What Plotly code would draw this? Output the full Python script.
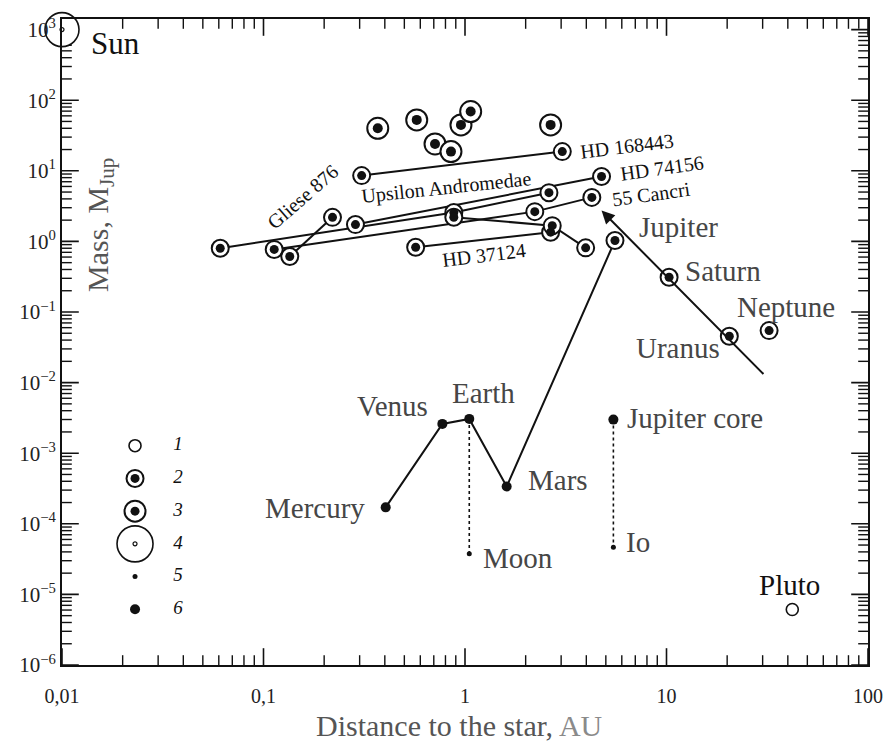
import numpy as np
import plotly.graph_objects as go

# ---------------- data: distance (AU) and mass (M_Jup) ----------------
sun_a = [0.01]
sun_m = [1000.0]

# extrasolar planetary systems (connected by lines)
ups_and_a = [0.061, 0.88, 2.61]
ups_and_m = [0.80, 2.56, 4.9]
cnc55_a = [0.113, 2.22, 4.26]
cnc55_m = [0.77, 2.64, 4.2]
hd74156_a = [0.286, 4.76]
hd74156_m = [1.73, 8.3]
gl876_a = [0.135, 0.22]
gl876_m = [0.61, 2.19]
hd168443_a = [0.307, 3.04]
hd168443_m = [8.55, 18.7]
hd37124_a = [0.569, 2.66]
hd37124_m = [0.825, 1.35]
hd12661_a = [0.88, 2.71, 3.97]
hd12661_m = [2.2, 1.67, 0.81]

# single massive companions
single_a = [0.369, 0.576, 0.71, 0.852, 0.955, 1.067, 2.66]
single_m = [40.0, 52.6, 24.0, 18.7, 44.7, 69.0, 44.7]

# Solar system
giant_names = ["Jupiter", "Saturn", "Uranus", "Neptune"]
giant_a = [5.55, 10.3, 20.5, 32.3]
giant_m = [1.03, 0.31, 0.0453, 0.0545]

inner_names = ["Mercury", "Venus", "Earth", "Mars"]
inner_a = [0.404, 0.772, 1.05, 1.61]
inner_m = [1.71e-4, 2.6e-3, 3.06e-3, 3.37e-4]

moon_a = [1.05]
moon_m = [3.75e-5]
jcore_a = [5.45]
jcore_m = [2.99e-3]
io_a = [5.45]
io_m = [4.65e-5]
pluto_a = [42.1]
pluto_m = [6.1e-6]

# trend arrow (tail -> head)
trend_a = [30.8, 4.76]
trend_m = [0.0126, 2.73]

x_tick_vals = [0.01, 0.1, 1, 10, 100]
x_tick_text = ["0,01", "0,1", "1", "10", "100"]
y_tick_exps = [-6, -5, -4, -3, -2, -1, 0, 1, 2, 3]
legend_keys = ["1", "2", "3", "4", "5", "6"]

# ---------------- styling ----------------
FONT = "Liberation Serif"
GRAY = "#464646"
BLACK = "#111111"
X_RANGE = [-2, 2]
Y_RANGE = [-6, 3.15]

fig = go.Figure()

def line(a, m, dash="solid", width=2):
    fig.add_trace(go.Scatter(x=a, y=m, mode="lines",
                             line=dict(color=BLACK, width=width, dash=dash),
                             hoverinfo="skip", showlegend=False))

def rings(a, m, size, lw=2):
    fig.add_trace(go.Scatter(x=a, y=m, mode="markers", cliponaxis=False,
                             marker=dict(symbol="circle", size=size, color="white",
                                         line=dict(color=BLACK, width=lw)),
                             hoverinfo="skip", showlegend=False))

def dots(a, m, size):
    fig.add_trace(go.Scatter(x=a, y=m, mode="markers", cliponaxis=False,
                             marker=dict(symbol="circle", size=size, color=BLACK,
                                         line=dict(width=0)),
                             hoverinfo="skip", showlegend=False))

# ---------------- tick marks (half-clipped line markers on the frame) ----------------
x_minor = [k * d for d in x_tick_vals[:-1] for k in range(2, 10)]
y_major = [10.0 ** e for e in y_tick_exps]
y_text = ["10<sup>%s</sup>" % (str(e).replace("-", "\u2212")) for e in y_tick_exps]
y_minor = [k * d for d in y_major[:-1] for k in range(2, 10)]
x_lo, x_hi = 10.0 ** X_RANGE[0], 10.0 ** X_RANGE[1]
y_lo, y_hi = 10.0 ** Y_RANGE[0], 10.0 ** Y_RANGE[1]

def ticks(xs, ys, symbol, length, w):
    fig.add_trace(go.Scatter(x=xs, y=ys, mode="markers", cliponaxis=True,
                             marker=dict(symbol=symbol, size=2 * length, color=BLACK,
                                         line=dict(color=BLACK, width=w)),
                             hoverinfo="skip", showlegend=False))
MAJ, MIN = 12, 7
for yy in (y_lo, y_hi):
    ticks(x_tick_vals, [yy] * len(x_tick_vals), "line-ns-open", MAJ, 1.6)
    ticks(x_minor, [yy] * len(x_minor), "line-ns-open", MIN, 1.4)
for xx in (x_lo, x_hi):
    ticks([xx] * len(y_major), y_major, "line-ew-open", MAJ, 1.6)
    ticks([xx] * len(y_minor), y_minor, "line-ew-open", MIN, 1.4)

# ---------------- data lines ----------------
systems = [(ups_and_a, ups_and_m), (cnc55_a, cnc55_m), (hd74156_a, hd74156_m),
           (gl876_a, gl876_m), (hd168443_a, hd168443_m), (hd37124_a, hd37124_m),
           (hd12661_a, hd12661_m)]
for a, m in systems:
    line(a, m)
line(inner_a + giant_a[:1], inner_m + giant_m[:1])
line([inner_a[2], moon_a[0]], [inner_m[2], moon_m[0]], dash="dot", width=1.6)
line([jcore_a[0], io_a[0]], [jcore_m[0], io_m[0]], dash="dot", width=1.6)

# trend arrow
fig.add_annotation(x=np.log10(trend_a[1]), y=np.log10(trend_m[1]),
                   ax=np.log10(trend_a[0]), ay=np.log10(trend_m[0]),
                   xref="x", yref="y", axref="x", ayref="y", text="",
                   showarrow=True, arrowhead=2, arrowsize=1.3, arrowwidth=2,
                   arrowcolor=BLACK, standoff=0)

# ring markers with filled centres
sys_a = sum([s[0] for s in systems], [])
sys_m = sum([s[1] for s in systems], [])
rings(sys_a, sys_m, 17)
dots(sys_a, sys_m, 9)
rings(single_a, single_m, 21)
dots(single_a, single_m, 10)
rings(giant_a, giant_m, 17)
dots(giant_a, giant_m, 9)

# Sun
rings(sun_a, sun_m, 34, lw=1.6)
rings(sun_a, sun_m, 4, lw=1.2)

# terrestrial planets etc.
dots(inner_a + jcore_a, inner_m + jcore_m, 10)
dots(moon_a + io_a, moon_m + io_m, 5)
rings(pluto_a, pluto_m, 12, lw=1.6)

# ---------------- legend key (own small axes) ----------------
key_y = [int(k) for k in legend_keys]
def kring(y, size, lw):
    fig.add_trace(go.Scatter(x=[0], y=[y], xaxis="x2", yaxis="y2", mode="markers",
                             cliponaxis=False,
                             marker=dict(size=size, color="white", line=dict(color=BLACK, width=lw)),
                             hoverinfo="skip", showlegend=False))
def kdot(y, size):
    fig.add_trace(go.Scatter(x=[0], y=[y], xaxis="x2", yaxis="y2", mode="markers",
                             cliponaxis=False,
                             marker=dict(size=size, color=BLACK, line=dict(width=0)),
                             hoverinfo="skip", showlegend=False))
kring(key_y[0], 12, 1.6)
kring(key_y[1], 17, 2); kdot(key_y[1], 9)
kring(key_y[2], 21, 2); kdot(key_y[2], 9)
kring(key_y[3], 36, 1.6); kring(key_y[3], 4, 1.2)
kdot(key_y[4], 5)
kdot(key_y[5], 10)
fig.add_trace(go.Scatter(x=[1] * len(legend_keys), y=key_y, xaxis="x2", yaxis="y2",
                         mode="text", text=legend_keys, cliponaxis=False,
                         textfont=dict(family=FONT, size=19, color=BLACK, style="italic"),
                         hoverinfo="skip", showlegend=False))

# ---------------- labels ----------------
def lab(text, a, m, dx, dy, size=29, color=GRAY, angle=0, xanchor="center"):
    fig.add_annotation(x=np.log10(a), y=np.log10(m), xref="x", yref="y", text=text,
                       showarrow=False, xanchor=xanchor, yanchor="middle",
                       xshift=dx, yshift=dy, textangle=angle,
                       font=dict(family=FONT, size=size, color=color))

lab("Sun", sun_a[0], sun_m[0], 27, -14, size=31, color=BLACK, xanchor="left")
lab("Jupiter", giant_a[0], giant_m[0], 22, 13, xanchor="left")
lab("Saturn", giant_a[1], giant_m[1], 14, 6, xanchor="left")
lab("Uranus", giant_a[2], giant_m[2], -7, -12, xanchor="right")
lab("Neptune", giant_a[3], giant_m[3], 17, 24)
lab("Mercury", inner_a[0], inner_m[0], -19, -1, xanchor="right")
lab("Venus", inner_a[1], inner_m[1], -12, 18, xanchor="right")
lab("Earth", inner_a[2], inner_m[2], 14, 26)
lab("Mars", inner_a[3], inner_m[3], 19, 7, xanchor="left")
lab("Moon", moon_a[0], moon_m[0], 12, -4, xanchor="left")
lab("Jupiter core", jcore_a[0], jcore_m[0], 12, 2, xanchor="left")
lab("Io", io_a[0], io_m[0], 11, 5, xanchor="left")
lab("Pluto", pluto_a[0], pluto_m[0], -3, 25, color=BLACK)

lab("HD 168443", hd168443_a[1], hd168443_m[1], 65, 6, size=20, color=BLACK, angle=-7)
lab("HD 74156", hd74156_a[1], hd74156_m[1], 60, 9, size=20, color=BLACK, angle=-8)
lab("55 Cancri", cnc55_a[2], cnc55_m[2], 60, 3, size=20, color=BLACK, angle=-8)
lab("Upsilon Andromedae", ups_and_a[1], ups_and_m[1], -7, 25, size=20, color=BLACK, angle=-6)
lab("Gliese 876", gl876_a[1], gl876_m[1], -30, 20, size=20, color=BLACK, angle=-41)
lab("HD 37124", hd37124_a[0], hd37124_m[0], 68, -8, size=20, color=BLACK, angle=-7)

# axis titles
fig.add_annotation(x=0.047, y=0.681, xref="paper", yref="paper", showarrow=False,
                   text="Mass, M<sub>Jup</sub>", textangle=-90,
                   xanchor="center", yanchor="middle",
                   font=dict(family=FONT, size=30, color="#555555"))
fig.add_annotation(x=0.493, y=-0.094, xref="paper", yref="paper", showarrow=False,
                   text="Distance to the star, <span style='color:#8a8a8a'>AU</span>",
                   xanchor="center", yanchor="middle",
                   font=dict(family=FONT, size=30, color="#555555"))

# ---------------- axes ----------------
axis_common = dict(type="log", showgrid=False, zeroline=False, showline=True,
                   linecolor=BLACK, linewidth=2, mirror=True, ticks="",
                   tickmode="array", automargin=False)

fig.update_layout(
    width=888, height=742,
    margin=dict(l=62, r=20, t=19, b=77),
    paper_bgcolor="white", plot_bgcolor="white",
    showlegend=False, hovermode=False,
    xaxis=dict(range=X_RANGE, tickvals=x_tick_vals, ticktext=x_tick_text, ticklabelstandoff=12,
               tickfont=dict(family=FONT, size=20, color="#222222"), **axis_common),
    yaxis=dict(range=Y_RANGE, tickvals=y_major, ticktext=y_text, ticklabelstandoff=0,
               tickfont=dict(family=FONT, size=21, color="#222222"), **axis_common),
    xaxis2=dict(domain=[0.0906, 0.1439], range=[0, 1], visible=False, anchor="y2"),
    yaxis2=dict(domain=[0.0862, 0.3395], range=[6, 1], visible=False, anchor="x2"),
)

fig.write_html("out.html")
